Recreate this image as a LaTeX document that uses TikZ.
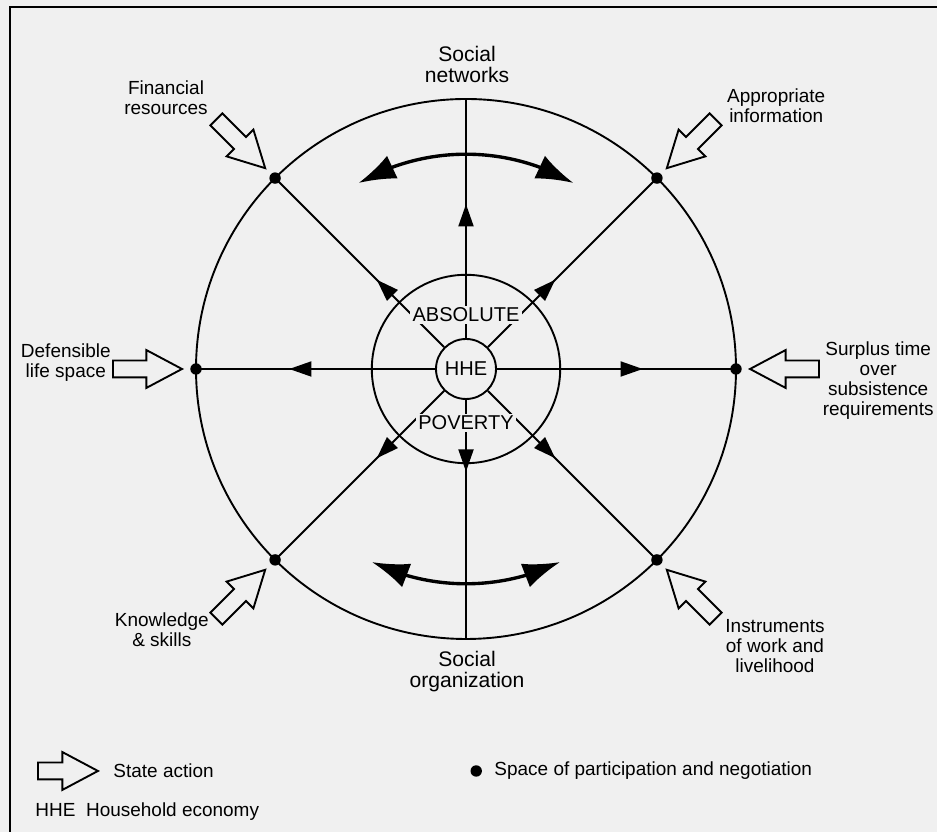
\documentclass[tikz,border=0pt]{standalone}
\usepackage{fontspec}
\setmainfont{Liberation Sans}
\usetikzlibrary{arrows.meta,shapes.arrows,decorations.markings,bending}
\definecolor{paper}{RGB}{240,240,240}
\tikzset{
  statearrow/.style={single arrow, draw, line width=0.9pt, fill=paper,
    inner xsep=0pt, inner ysep=0.125cm, minimum height=1.15cm,
    single arrow head extend=0.175cm, single arrow tip angle=56},
  txt/.style={align=center, font=\fontsize{9}{9.5}\selectfont},
  bigtxt/.style={align=center, font=\fontsize{10}{10}\selectfont},
  ringtxt/.style={font=\fontsize{9.5}{10}\selectfont, fill=paper, inner sep=1pt},
  spoke/.style={line width=0.9pt, postaction=decorate,
    decoration={markings, mark=at position #1 with {\arrow{Triangle[length=0.37cm,width=0.25cm]}}}},
  swing/.style={line width=1.6pt, {Latex[length=0.62cm,width=0.42cm]}-{Latex[length=0.62cm,width=0.42cm]}},
}
\begin{document}
\begin{tikzpicture}
    \fill[paper] (-7.767,6.15) rectangle (7.85,-7.717);
    \useasboundingbox (-7.767,6.15) rectangle (7.85,-7.717);
    \draw[line width=1.2pt] (-7.6,-8) -- (-7.6,6.033) -- (8,6.033);

    \draw[line width=0.9pt] (0,0) circle (4.5);
    \draw[line width=0.9pt] (0,0) circle (1.57);
    \node[draw, circle, line width=0.9pt, minimum size=1cm, inner sep=0pt,
          font=\fontsize{9.5}{10}\selectfont] (hhe) at (0,0) {HHE};

    \coordinate (dN) at (90:4.5);
    \coordinate (dS) at (270:4.5);
    \foreach \a/\n in {0/E,45/NE,135/NW,180/W,225/SW,315/SE}
        \coordinate (d\n) at (\a:4.5);

    \draw[spoke=0.56] (hhe) -- (dN);
    \draw[spoke=0.30] (hhe) -- (dS);
    \draw[spoke=0.61] (hhe) -- (dE);
    \draw[spoke=0.61] (hhe) -- (dW);
    \draw[spoke=0.40] (hhe) -- (dNE);
    \draw[spoke=0.40] (hhe) -- (dNW);
    \draw[spoke=0.40] (hhe) -- (dSE);
    \draw[spoke=0.40] (hhe) -- (dSW);

    \node[ringtxt] (abs) at (0,0.9) {ABSOLUTE};
    \node[ringtxt] (pov) at (0,-0.9) {POVERTY};

    \foreach \n in {E,NE,NW,W,SW,SE}
        \fill (d\n) circle (0.095);

    \foreach \a/\n in {0/E,45/NE,135/NW,180/W,225/SW,315/SE}
        \node[statearrow, rotate=\a+180, anchor=tip] (sa\n) at (\a:4.7) {};

    \draw[swing] (120:3.58) arc[start angle=120, end angle=60, radius=3.58cm];
    \draw[swing] (244:3.58) arc[start angle=244, end angle=296, radius=3.58cm];

    \node[bigtxt] (net) at (0.017,5.08) {Social\\networks};
    \node[bigtxt] (org) at (0.017,-5.05) {Social\\organization};
    \node[txt] (fin) at (-5.0,4.52) {Financial\\resources};
    \node[txt] (inf) at (5.17,4.38) {Appropriate\\information};
    \node[txt] (def) at (-6.67,0.1) {Defensible\\life space};
    \node[txt] (sur) at (6.87,-0.2) {Surplus time\\over\\subsistence\\requirements};
    \node[txt] (kno) at (-5.07,-4.35) {Knowledge\\\& skills};
    \node[txt] (ins) at (5.15,-4.62) {Instruments\\of work and\\livelihood};

    \node[statearrow, minimum height=1cm, anchor=tail] (keyarrow) at (-7.15,-6.7) {};
    \node[txt, anchor=west] (keystate) at (-6.0,-6.7) {State action};
    \coordinate (keydot) at (0.17,-6.7);
    \fill (keydot) circle (0.095);
    \node[txt, anchor=west] (keyspace) at (0.35,-6.7) {Space of participation and negotiation};
    \node[txt, anchor=west] (keyhhe) at (-7.3,-7.38) {HHE\ \ Household economy};
\end{tikzpicture}
\end{document}
